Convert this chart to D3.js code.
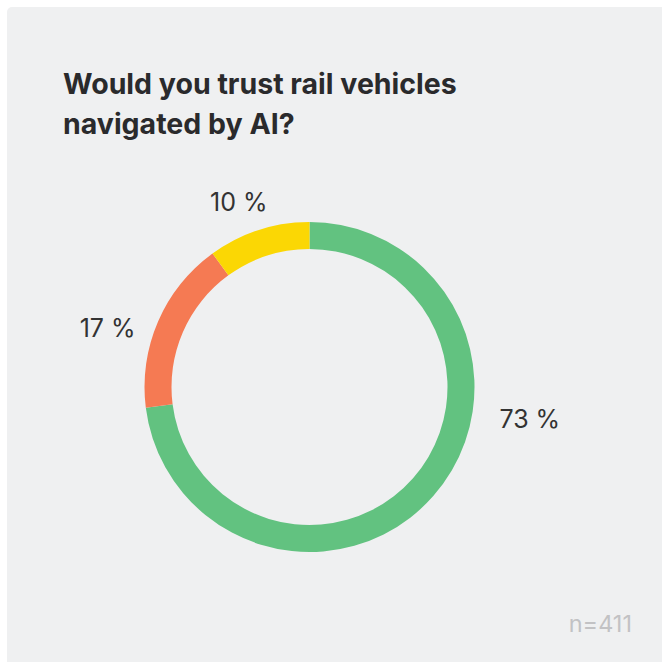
<!DOCTYPE html>
<html>
<head>
<meta charset="utf-8">
<script src="https://cdn.jsdelivr.net/npm/d3@7"></script>
<style>
  html, body { margin: 0; padding: 0; background: #ffffff; }
  svg { display: block; }
  text { font-family: Inter, "Noto Sans", sans-serif; }
</style>
</head>
<body>
<svg id="chart" width="662" height="662"></svg>
<script>
// Survey answers, share of respondents in percent
const answers = ["Yes", "Undecided", "No"];
const shares = [73, 17, 10];
const answerColors = ["#62c280", "#f57a53", "#fbd704"];
const titleLines = ["Would you trust rail vehicles", "navigated by AI?"];
const sampleNote = "n=411";

const W = 662, H = 662;
const svg = d3.select("#chart");

// card background
svg.append("rect")
  .attr("x", 7).attr("y", 7)
  .attr("width", W).attr("height", H)
  .attr("rx", 5)
  .attr("fill", "#eff0f1");

// title
const title = svg.append("text")
  .attr("x", 63).attr("y", 94)
  .attr("fill", "#2a2a2c")
  .attr("font-size", 28.5)
  .attr("font-weight", 700);
title.selectAll("tspan")
  .data(titleLines)
  .join("tspan")
  .attr("x", 63)
  .attr("dy", (d, i) => i === 0 ? 0 : 39.5)
  .text(d => d);

// donut
const cx = 309.5, cy = 387;
const outerR = 165, innerR = 138;

const data = answers.map((a, i) => ({ answer: a, share: shares[i], color: answerColors[i] }));
const pie = d3.pie().value(d => d.share).sort(null);
const arcs = pie(data);
const arc = d3.arc().innerRadius(innerR).outerRadius(outerR);

const g = svg.append("g").attr("transform", `translate(${cx},${cy})`);
g.selectAll("path.slice")
  .data(arcs)
  .join("path")
  .attr("class", "slice")
  .attr("d", arc)
  .attr("fill", d => d.data.color);

// value labels outside the ring, each pulled toward the horizontal by an eighth of its slice
function labelAngle(d) {
  const mid = (d.startAngle + d.endAngle) / 2;
  const horizon = mid < Math.PI ? Math.PI / 2 : 3 * Math.PI / 2;
  const pull = Math.min(Math.abs(mid - horizon), (d.endAngle - d.startAngle) / 8);
  return mid + Math.sign(horizon - mid) * pull;
}
g.selectAll("text.value")
  .data(arcs)
  .join("text")
  .attr("class", "value")
  .each(function (d) {
    const a = labelAngle(d);
    const r = 190 + 27 * Math.abs(Math.sin(a));
    d3.select(this)
      .attr("x", Math.sin(a) * r)
      .attr("y", -Math.cos(a) * r);
  })
  .attr("dx", 6)
  .attr("text-anchor", "middle")
  .attr("dominant-baseline", "central")
  .attr("font-size", 25)
  .attr("fill", "#333333")
  .text(d => `${d.data.share} %`);

// sample size note
svg.append("text")
  .attr("x", 632).attr("y", 632)
  .attr("text-anchor", "end")
  .attr("font-size", 23.5)
  .attr("fill", "#c2c2c4")
  .text(sampleNote);
</script>
</body>
</html>
